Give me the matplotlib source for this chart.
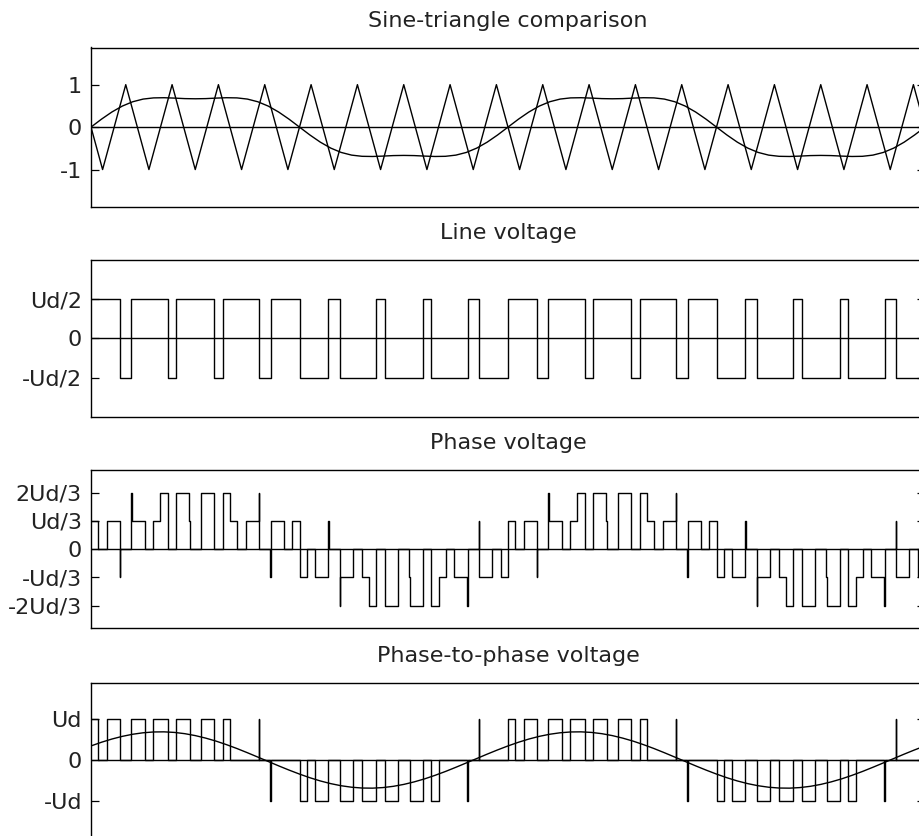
import numpy as np
import matplotlib.pyplot as plt

# time axis in ms, two fundamental periods (50 Hz), carrier ratio 9
T_END = 40.0

# carrier triangle vertices
tri_t = [0.0, 0.556, 1.667, 2.778, 3.889, 5.0, 6.111, 7.222, 8.333, 9.444,
         10.556, 11.667, 12.778, 13.889, 15.0, 16.111, 17.222, 18.333, 19.444,
         20.556, 21.667, 22.778, 23.889, 25.0, 26.111, 27.222, 28.333, 29.444,
         30.556, 31.667, 32.778, 33.889, 35.0, 36.111, 37.222, 38.333, 39.444, 40.0]
tri_v = [0, -1, 1, -1, 1, -1, 1, -1, 1, -1,
         1, -1, 1, -1, 1, -1, 1, -1, 1,
         -1, 1, -1, 1, -1, 1, -1, 1, -1,
         1, -1, 1, -1, 1, -1, 1, -1, 1, 0]

# modulating signal (flat-top sine), sampled every 0.5 ms
ref_v = [0.0, 0.186, 0.355, 0.495, 0.597, 0.660, 0.688, 0.692, 0.683, 0.671,
         0.667, 0.671, 0.683, 0.692, 0.688, 0.660, 0.597, 0.495, 0.355, 0.186,
         0.0, -0.186, -0.355, -0.495, -0.597, -0.660, -0.688, -0.692, -0.683, -0.671,
         -0.667, -0.671, -0.683, -0.692, -0.688, -0.660, -0.597, -0.495, -0.355, -0.186,
         0.0, 0.186, 0.355, 0.495, 0.597, 0.660, 0.688, 0.692, 0.683, 0.671,
         0.667, 0.671, 0.683, 0.692, 0.688, 0.660, 0.597, 0.495, 0.355, 0.186,
         0.0, -0.186, -0.355, -0.495, -0.597, -0.660, -0.688, -0.692, -0.683, -0.671,
         -0.667, -0.671, -0.683, -0.692, -0.688, -0.660, -0.597, -0.495, -0.355, -0.186,
         0.0]

# leg voltage, switching instants and level (units of Ud/2)
line_t = [0.0, 1.38, 1.92, 3.68, 4.09, 5.91, 6.32, 8.08, 8.62, 10.0,
          11.38, 11.92, 13.68, 14.09, 15.91, 16.32, 18.08, 18.62, 20.0,
          21.38, 21.92, 23.68, 24.09, 25.91, 26.32, 28.08, 28.62, 30.0,
          31.38, 31.92, 33.68, 34.09, 35.91, 36.32, 38.08, 38.62, 40.0]
line_v = [1, -1, 1, -1, 1, -1, 1, -1, 1, -1,
          1, -1, 1, -1, 1, -1, 1, -1, 1,
          -1, 1, -1, 1, -1, 1, -1, 1, -1,
          1, -1, 1, -1, 1, -1, 1, -1, 1]

# phase voltage, units of Ud/3
phase_t = [0.0, 0.347, 0.757, 1.38, 1.413, 1.92, 1.953, 2.577, 2.987, 3.333,
           3.68, 4.09, 4.713, 4.747, 5.253, 5.287, 5.91, 6.32, 6.667, 7.013,
           7.423, 8.047, 8.08, 8.587, 8.62, 9.243, 9.653, 10.0, 10.347, 10.757,
           11.38, 11.413, 11.92, 11.953, 12.577, 12.987, 13.333, 13.68, 14.09, 14.713,
           14.747, 15.253, 15.287, 15.91, 16.32, 16.667, 17.013, 17.423, 18.047, 18.08,
           18.587, 18.62, 19.243, 19.653,
           20.0, 20.347, 20.757, 21.38, 21.413, 21.92, 21.953, 22.577, 22.987, 23.333,
           23.68, 24.09, 24.713, 24.747, 25.253, 25.287, 25.91, 26.32, 26.667, 27.013,
           27.423, 28.047, 28.08, 28.587, 28.62, 29.243, 29.653, 30.0, 30.347, 30.757,
           31.38, 31.413, 31.92, 31.953, 32.577, 32.987, 33.333, 33.68, 34.09, 34.713,
           34.747, 35.253, 35.287, 35.91, 36.32, 36.667, 37.013, 37.423, 38.047, 38.08,
           38.587, 38.62, 39.243, 39.653, 40.0]
phase_v = [1, 0, 1, -1, 0, 2, 1, 0, 1, 2,
           0, 2, 1, 0, 1, 2, 0, 2, 1, 0,
           1, 2, 0, -1, 1, 0, 1, -1, 0, -1,
           1, 0, -2, -1, 0, -1, -2, 0, -2, -1,
           0, -1, -2, 0, -2, -1, 0, -1, -2, 0,
           1, -1, 0, -1,
           1, 0, 1, -1, 0, 2, 1, 0, 1, 2,
           0, 2, 1, 0, 1, 2, 0, 2, 1, 0,
           1, 2, 0, -1, 1, 0, 1, -1, 0, -1,
           1, 0, -2, -1, 0, -1, -2, 0, -2, -1,
           0, -1, -2, 0, -2, -1, 0, -1, -2, 0,
           1, -1, 0, -1, 1]

# phase-to-phase voltage, units of Ud
ll_t = [0.0, 0.347, 0.757, 1.38, 1.92, 2.577, 2.987, 3.68, 4.09, 4.747,
        5.287, 5.91, 6.32, 6.667, 8.047, 8.08, 8.587, 8.62, 10.0, 10.347,
        10.757, 11.38, 11.92, 12.577, 12.987, 13.68, 14.09, 14.747, 15.287, 15.91,
        16.32, 16.667, 18.047, 18.08, 18.587, 18.62,
        20.0, 20.347, 20.757, 21.38, 21.92, 22.577, 22.987, 23.68, 24.09, 24.747,
        25.287, 25.91, 26.32, 26.667, 28.047, 28.08, 28.587, 28.62, 30.0, 30.347,
        30.757, 31.38, 31.92, 32.577, 32.987, 33.68, 34.09, 34.747, 35.287, 35.91,
        36.32, 36.667, 38.047, 38.08, 38.587, 38.62, 40.0]
ll_v = [1, 0, 1, 0, 1, 0, 1, 0, 1, 0,
        1, 0, 1, 0, 1, 0, -1, 0, -1, 0,
        -1, 0, -1, 0, -1, 0, -1, 0, -1, 0,
        -1, 0, -1, 0, 1, 0,
        1, 0, 1, 0, 1, 0, 1, 0, 1, 0,
        1, 0, 1, 0, 1, 0, -1, 0, -1, 0,
        -1, 0, -1, 0, -1, 0, -1, 0, -1, 0,
        -1, 0, -1, 0, 1, 0, 1]

# fundamental of phase-to-phase voltage, sampled every 0.5 ms
ll_fund = [0.346, 0.436, 0.515, 0.581, 0.633, 0.669, 0.689, 0.692, 0.678, 0.647,
           0.600, 0.538, 0.464, 0.377, 0.282, 0.179, 0.072, -0.036, -0.144, -0.248,
           -0.346, -0.436, -0.515, -0.581, -0.633, -0.669, -0.689, -0.692, -0.678, -0.647,
           -0.600, -0.538, -0.464, -0.377, -0.282, -0.179, -0.072, 0.036, 0.144, 0.248,
           0.346, 0.436, 0.515, 0.581, 0.633, 0.669, 0.689, 0.692, 0.678, 0.647,
           0.600, 0.538, 0.464, 0.377, 0.282, 0.179, 0.072, -0.036, -0.144, -0.248,
           -0.346, -0.436, -0.515, -0.581, -0.633, -0.669, -0.689, -0.692, -0.678, -0.647,
           -0.600, -0.538, -0.464, -0.377, -0.282, -0.179, -0.072, 0.036, 0.144, 0.248,
           0.346]

titles = ["Sine-triangle comparison", "Line voltage", "Phase voltage",
          "Phase-to-phase voltage"]

plt.rcParams['font.family'] = ['DejaVu Sans']

W, H = 919, 836
fig = plt.figure(figsize=(W / 100, H / 100), dpi=100)

# axes boxes in pixels (top, bottom), left edge 91, right edge 925 (cropped)
boxes = [(47.5, 206.7), (260, 416.7), (470, 628.3), (682.7, 837.3)]
axes = []
for top, bot in boxes:
    ax = fig.add_axes([91 / W, 1 - bot / H, 834 / W, (bot - top) / H])
    axes.append(ax)

LW = 1.0

for ax, title in zip(axes, titles):
    ax.set_xlim(0, T_END)
    ax.set_xticks([])
    ax.tick_params(axis='y', direction='in', length=6, width=0.9,
                   left=True, right=True, labelsize=16, pad=6.5,
                   labelcolor='#222222')
    for sp in ax.spines.values():
        sp.set_linewidth(1.0)
    ax.axhline(0, color='k', lw=LW)
    ax.set_title(title, fontsize=16, pad=15, color='#222222')

# sine-triangle
ax = axes[0]
ax.plot(tri_t, tri_v, color='k', lw=LW)
ax.plot(np.linspace(0, T_END, len(ref_v)), ref_v, color='k', lw=LW)
ax.set_ylim(-1.875, 1.875)
ax.set_yticks([-1, 0, 1])
ax.set_yticklabels(['-1', '0', '1'])

# leg voltage
ax = axes[1]
ax.plot(line_t, line_v, drawstyle='steps-post', color='k', lw=LW)
ax.set_ylim(-2, 2)
ax.set_yticks([-1, 0, 1])
ax.set_yticklabels(['-Ud/2', '0', 'Ud/2'])

# phase voltage
ax = axes[2]
ax.plot(phase_t, phase_v, drawstyle='steps-post', color='k', lw=LW)
ax.set_ylim(-2.8, 2.8)
ax.set_yticks([-2, -1, 0, 1, 2])
ax.set_yticklabels(['-2Ud/3', '-Ud/3', '0', 'Ud/3', '2Ud/3'])

# phase-to-phase voltage
ax = axes[3]
ax.plot(ll_t, ll_v, drawstyle='steps-post', color='k', lw=LW)
ax.plot(np.linspace(0, T_END, len(ll_fund)), ll_fund, color='k', lw=LW)
ax.set_ylim(-1.9, 1.9)
ax.set_yticks([-1, 0, 1])
ax.set_yticklabels(['-Ud', '0', 'Ud'])

fig.savefig("out.png", dpi=100)
